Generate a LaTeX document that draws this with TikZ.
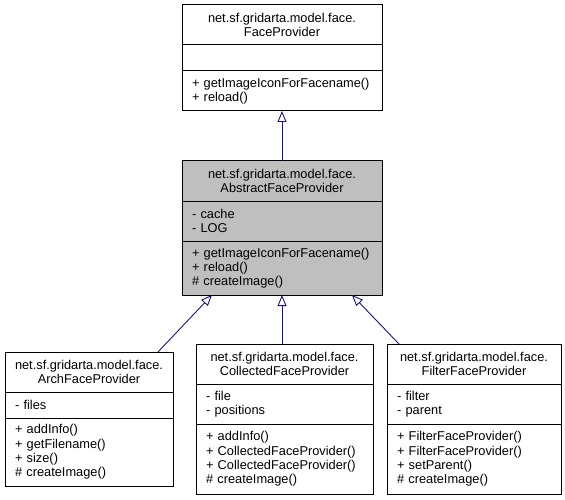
\documentclass[tikz,border=0pt]{standalone}
\usepackage{fontspec}
\setmainfont{Liberation Sans}
\usetikzlibrary{arrows.meta, positioning, calc}
\definecolor{edgeblue}{RGB}{25,25,112}
\definecolor{curgray}{RGB}{191,191,191}
\tikzset{
    classtitle/.style={
        draw,
        line width=1pt,
        text width=#1,
        minimum height=40pt,
        inner xsep=0pt,
        inner ysep=0pt,
        outer sep=0pt,
        align=center
    },
    classpart/.style={
        draw,
        line width=1pt,
        text width=#1,
        inner xsep=10pt,
        inner ysep=0pt,
        outer sep=0pt,
        align=left
    },
    inherit/.style={edgeblue, line width=0.9pt, -{Triangle[open, length=11pt, width=9pt]}},
    every node/.style={font=\fontsize{12.8}{14.3}\selectfont}
}

\begin{document}
\begin{tikzpicture}[x=1pt, y=-1pt]
\useasboundingbox (0,0) rectangle (565,500);

% interface
\node[classtitle=200pt, anchor=north] (fp) at (282,5) {net.sf.gridarta.model.face.\\FaceProvider};
\node[classpart=180pt, minimum height=26pt, below=0pt of fp] (fpattr) {};
\node[classpart=180pt, minimum height=40pt, below=0pt of fpattr] (fpop) {+ getImageIconForFacename()\\+ reload()};

% abstract base class
\node[classtitle=200pt, fill=curgray, anchor=north] (afp) at (282,161) {net.sf.gridarta.model.face.\\AbstractFaceProvider};
\node[classpart=180pt, fill=curgray, minimum height=40pt, below=0pt of afp] (afpattr) {- cache\\- LOG};
\node[classpart=180pt, fill=curgray, minimum height=54pt, below=0pt of afpattr] (afpop) {+ getImageIconForFacename()\\+ reload()\\\# createImage()};

% subclasses
\node[classtitle=168pt, anchor=north] (arch) at (89,352) {net.sf.gridarta.model.face.\\ArchFaceProvider};
\node[classpart=148pt, minimum height=26pt, below=0pt of arch] (archattr) {- files};
\node[classpart=148pt, minimum height=68pt, below=0pt of archattr] (archop) {+ addInfo()\\+ getFilename()\\+ size()\\\# createImage()};

\node[classtitle=177pt, anchor=north] (coll) at (284.5,344) {net.sf.gridarta.model.face.\\CollectedFaceProvider};
\node[classpart=157pt, minimum height=40pt, below=0pt of coll] (collattr) {- file\\- positions};
\node[classpart=157pt, minimum height=70pt, below=0pt of collattr] (collop) {+ addInfo()\\+ CollectedFaceProvider()\\+ CollectedFaceProvider()\\\# createImage()};

\node[classtitle=174pt, anchor=north] (filt) at (474,344) {net.sf.gridarta.model.face.\\FilterFaceProvider};
\node[classpart=154pt, minimum height=40pt, below=0pt of filt] (filtattr) {- filter\\- parent};
\node[classpart=154pt, minimum height=70pt, below=0pt of filtattr] (filtop) {+ FilterFaceProvider()\\+ FilterFaceProvider()\\+ setParent()\\\# createImage()};

% generalisations
\draw[inherit] (afp.north) -- (fpop.south);
\draw[inherit] ($(arch.north east)+(-15,0)$) -- ($(afpop.south west)+(30,0)$);
\draw[inherit] (coll.north -| afp.north) -- (afpop.south);
\draw[inherit] ($(filt.north west)+(12,0)$) -- ($(afpop.south east)+(-30,0)$);
\end{tikzpicture}
\end{document}
